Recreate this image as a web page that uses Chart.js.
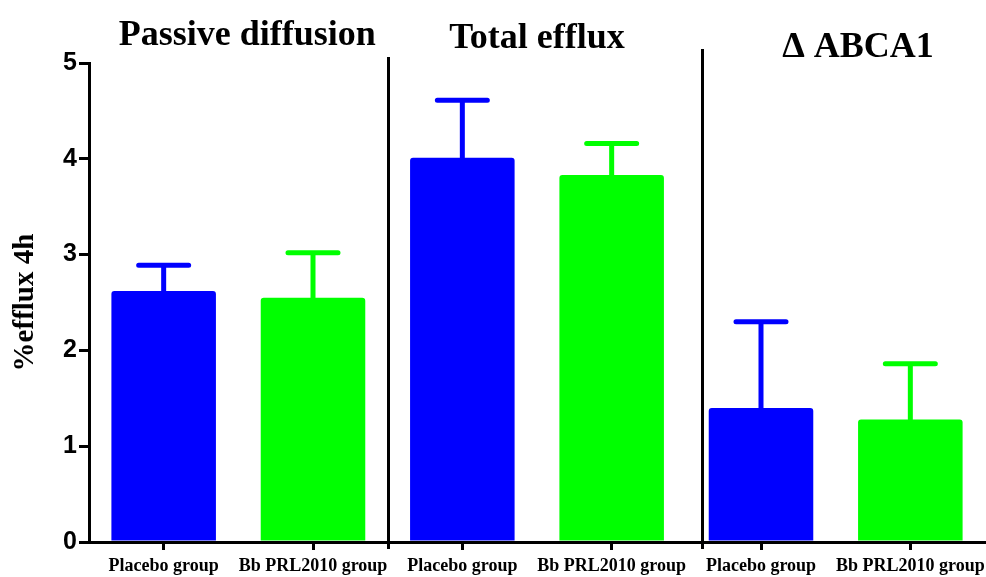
<!DOCTYPE html>
<html>
<head>
<meta charset="utf-8">
<script src="https://cdn.jsdelivr.net/npm/chart.js@4.4.1/dist/chart.umd.min.js"></script>
<style>
  html, body { margin: 0; padding: 0; background: #fff; }
  #wrap { width: 986px; height: 577px; position: relative; }
</style>
</head>
<body>
<div id="wrap"><canvas id="grafico" width="986" height="577"></canvas></div>
<script>
// datos
const categorias = ['Placebo group', 'Bb PRL2010 group', 'Placebo group', 'Bb PRL2010 group', 'Placebo group', 'Bb PRL2010 group']
const medias = [2.62, 2.55, 4.01, 3.83, 1.40, 1.28]
const errores = [0.27, 0.47, 0.60, 0.33, 0.90, 0.58]
const titulosGrupo = ['Passive diffusion', 'Total efflux', '\u0394 ABCA1']
const ticksY = [0, 1, 2, 3, 4, 5]

const colores = ['#0000ff', '#00ff00', '#0000ff', '#00ff00', '#0000ff', '#00ff00']

// barras de error + separadores + titulos de cada panel
const extras = {
    id: 'extras',
    afterDatasetsDraw(chart) {
        const ctx = chart.ctx
        const x = chart.scales.x
        const y = chart.scales.y
        const meta = chart.getDatasetMeta(0)

        ctx.save()
        ctx.lineCap = 'round'
        ctx.lineWidth = 5
        meta.data.forEach((bar, i) => {
            const top = y.getPixelForValue(medias[i] + errores[i])
            ctx.strokeStyle = colores[i]
            ctx.beginPath()
            ctx.moveTo(bar.x, bar.y)
            ctx.lineTo(bar.x, top)
            ctx.moveTo(bar.x - 25, top)
            ctx.lineTo(bar.x + 25, top)
            ctx.stroke()
        })

        // lineas que separan los paneles
        ctx.lineCap = 'butt'
        ctx.lineWidth = 3
        ctx.strokeStyle = '#000'
        const separadores = [[1.5, 57], [3.605, 49]]
        separadores.forEach(([v, yTop]) => {
            const px = Math.round(x.getPixelForValue(v)) + 0.5
            ctx.beginPath()
            ctx.moveTo(px, yTop)
            ctx.lineTo(px, y.bottom + 7)
            ctx.stroke()
        })

        // titulos
        ctx.fillStyle = '#000'
        ctx.font = 'bold 36px "Liberation Serif", "Times New Roman", serif'
        ctx.textAlign = 'center'
        ctx.textBaseline = 'alphabetic'
        const posTitulos = [[0.56, 45], [2.5, 48], [4.65, 57]]
        titulosGrupo.forEach((t, i) => {
            ctx.fillText(t, x.getPixelForValue(posTitulos[i][0]), posTitulos[i][1])
        })
        ctx.restore()
    }
}

const ctx = document.getElementById('grafico').getContext('2d')
new Chart(ctx, {
    type: 'bar',
    data: {
        labels: categorias,
        datasets: [{
            data: medias,
            backgroundColor: colores,
            borderRadius: 3,
            borderSkipped: 'start',
            categoryPercentage: 1,
            barPercentage: 0.7
        }]
    },
    options: {
        responsive: false,
        animation: false,
        events: [],
        layout: { padding: { top: 63, right: 1, left: 0, bottom: 0 } },
        plugins: {
            legend: { display: false },
            tooltip: { enabled: false }
        },
        scales: {
            x: {
                afterFit(scale) {
                    scale.height = 35
                    scale.paddingLeft = 0
                    scale.paddingRight = 0
                },
                border: { display: true, color: '#000', width: 3 },
                grid: {
                    offset: false,
                    drawOnChartArea: false,
                    color: '#000',
                    lineWidth: 3,
                    tickLength: 8
                },
                ticks: {
                    color: '#000',
                    maxRotation: 0,
                    autoSkip: false,
                    padding: 6,
                    font: { family: '"Liberation Serif", "Times New Roman", serif', weight: 'bold', size: 18 }
                }
            },
            y: {
                min: 0,
                max: 5,
                afterFit(scale) { scale.width = 89 },
                afterBuildTicks(scale) { scale.ticks = ticksY.map(v => ({ value: v })) },
                border: { display: true, color: '#000', width: 3 },
                grid: {
                    drawOnChartArea: false,
                    color: '#000',
                    lineWidth: 3,
                    tickLength: 10
                },
                ticks: {
                    color: '#000',
                    padding: 2,
                    font: { family: '"Liberation Sans", Arial, sans-serif', weight: 'bold', size: 25 }
                },
                title: {
                    display: true,
                    text: '%efflux 4h',
                    color: '#000',
                    padding: { top: 8, bottom: 0 },
                    font: { family: '"Liberation Serif", "Times New Roman", serif', weight: 'bold', size: 29 }
                }
            }
        }
    },
    plugins: [extras]
})
</script>
</body>
</html>
